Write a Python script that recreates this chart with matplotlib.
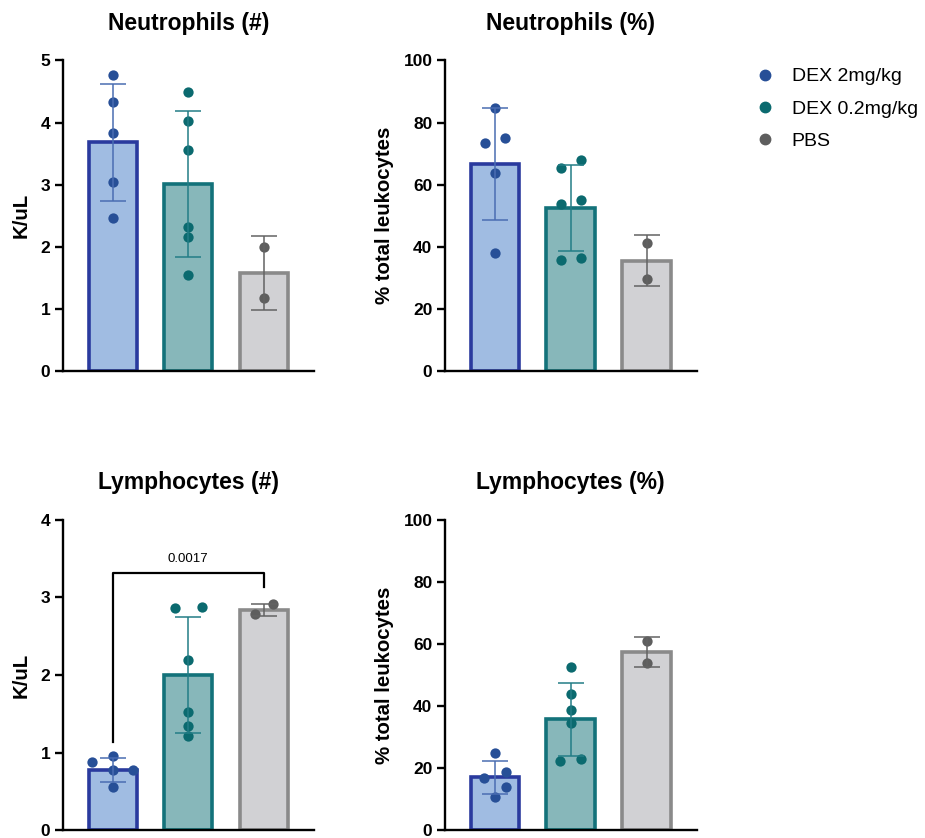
import matplotlib
matplotlib.use("Agg")
import matplotlib.pyplot as plt
from matplotlib.lines import Line2D

plt.rcParams['font.family'] = ['Liberation Sans', 'DejaVu Sans']

groups = ["DEX 2mg/kg", "DEX 0.2mg/kg", "PBS"]

# Neutrophils (#)
neu_abs_mean = [3.68, 3.01, 1.58]
neu_abs_sd = [0.94, 1.18, 0.59]
neu_abs_pts = [[4.76, 4.33, 3.83, 3.04, 2.46],
               [4.49, 4.03, 3.56, 2.32, 2.16, 1.54],
               [2.00, 1.17]]
neu_abs_off = [[0, 0, 0, 0, 0],
               [0, 0, 0, 0, 0, 0],
               [0, 0]]

# Neutrophils (%)
neu_pct_mean = [66.8, 52.5, 35.5]
neu_pct_sd = [18.0, 13.8, 8.2]
neu_pct_pts = [[84.8, 73.3, 74.9, 63.8, 37.9],
               [65.5, 68.1, 53.9, 55.1, 35.8, 36.5],
               [41.4, 29.7]]
neu_pct_off = [[0, -0.13, 0.13, 0, 0],
               [-0.13, 0.13, -0.13, 0.13, -0.13, 0.13],
               [0, 0]]

# Lymphocytes (#)
lym_abs_mean = [0.78, 2.00, 2.84]
lym_abs_sd = [0.155, 0.745, 0.08]
lym_abs_pts = [[0.88, 0.95, 0.77, 0.78, 0.55],
               [2.86, 2.88, 2.20, 1.52, 1.34, 1.21],
               [2.79, 2.91]]
lym_abs_off = [[-0.27, 0, 0, 0.27, 0],
               [-0.18, 0.18, 0, 0, 0, 0],
               [-0.12, 0.12]]

# Lymphocytes (%)
lym_pct_mean = [17.0, 35.7, 57.5]
lym_pct_sd = [5.4, 11.8, 4.8]
lym_pct_pts = [[24.9, 16.9, 18.8, 13.8, 10.6],
               [52.5, 44.0, 38.6, 34.6, 22.3, 22.8],
               [61.0, 54.0]]
lym_pct_off = [[0, -0.14, 0.14, 0.14, 0],
               [0, 0, 0, 0, -0.14, 0.14],
               [0, 0]]

fill_colors = ["#a0bce2", "#87b7ba", "#d1d1d4"]
edge_colors = ["#2a3a9e", "#13727a", "#8a8a8a"]
dot_colors = ["#274f97", "#0b6a6f", "#5e5e5e"]
err_colors = ["#4a6db2", "#237d86", "#636363"]

fig = plt.figure(figsize=(9.25, 8.38), dpi=100)


def panel(rect, title, ylabel, means, sds, pts, offs, ymax, step):
    ax = fig.add_axes(rect)
    x = range(len(means))
    ax.bar(x, means, width=0.64, color=fill_colors, edgecolor=edge_colors,
           linewidth=2.6, zorder=1)
    for i in x:
        xs = [i + o for o in offs[i]]
        ax.scatter(xs, pts[i], s=55, color=dot_colors[i], zorder=3,
                   linewidths=0)
        ax.errorbar(i, means[i], yerr=sds[i], color=err_colors[i],
                    elinewidth=1.1, capsize=9.5, capthick=1.1, zorder=4)
    ax.set_xlim(-0.66, 2.66)
    ax.set_ylim(0, ymax)
    ax.set_yticks([v * step for v in range(int(ymax / step) + 1)])
    ax.set_xticks([])
    for s in ["top", "right"]:
        ax.spines[s].set_visible(False)
    for s in ["left", "bottom"]:
        ax.spines[s].set_linewidth(1.7)
    ax.tick_params(axis='y', width=1.7, length=6, labelsize=12.5, pad=3)
    for lab in ax.get_yticklabels():
        lab.set_fontweight('bold')
    ax.set_ylabel(ylabel, fontsize=14.7, fontweight='bold', labelpad=7)
    ax.set_title(title, fontsize=16.5, fontweight='bold', pad=22)
    return ax


panel([0.068, 0.557, 0.271, 0.371], "Neutrophils (#)", "K/uL",
      neu_abs_mean, neu_abs_sd, neu_abs_pts, neu_abs_off, 5, 1)
panel([0.481, 0.557, 0.272, 0.371], "Neutrophils (%)", "% total leukocytes",
      neu_pct_mean, neu_pct_sd, neu_pct_pts, neu_pct_off, 100, 20)
ax3 = panel([0.068, 0.0095, 0.271, 0.370], "Lymphocytes (#)", "K/uL",
            lym_abs_mean, lym_abs_sd, lym_abs_pts, lym_abs_off, 4, 1)
panel([0.481, 0.0095, 0.272, 0.370], "Lymphocytes (%)", "% total leukocytes",
      lym_pct_mean, lym_pct_sd, lym_pct_pts, lym_pct_off, 100, 20)

# significance bracket
ax3.plot([0, 0, 2, 2], [1.13, 3.31, 3.31, 3.14], color="black", lw=1.6,
         zorder=5, clip_on=False)
ax3.text(1, 3.42, "0.0017", ha='center', va='bottom', fontsize=9.5)

handles = [Line2D([], [], marker='o', linestyle='none', markersize=7.5,
                  markerfacecolor=c, markeredgecolor=c) for c in dot_colors]
fig.legend(handles, groups, loc='upper left', bbox_to_anchor=(0.796, 0.94),
           frameon=False, fontsize=14, handletextpad=0.75, labelspacing=0.75,
           handlelength=1.2)

fig.savefig("out.png", dpi=100)
